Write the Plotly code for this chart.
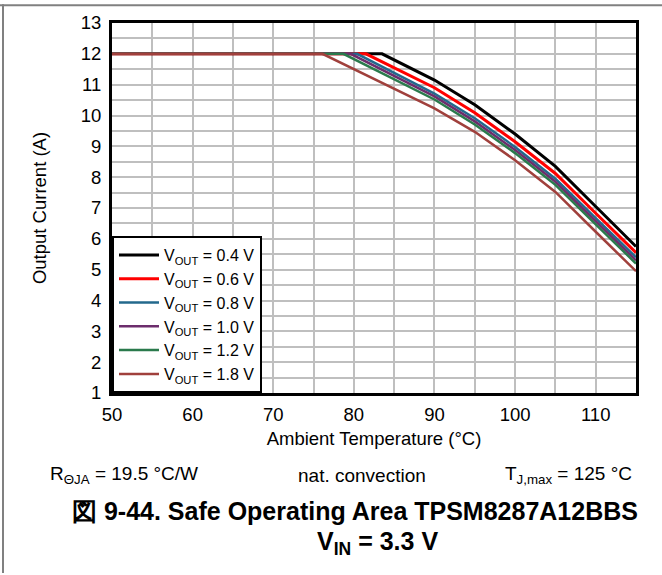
import plotly.graph_objects as go

# Data
temps_04 = [50, 83.5, 90, 95, 100, 105, 110, 115]
iout_04 = [12, 12, 11.15, 10.35, 9.40, 8.35, 7.05, 5.75]
temps_06 = [50, 81.5, 90, 95, 100, 105, 110, 115]
iout_06 = [12, 12, 10.90, 10.09, 9.15, 8.12, 6.83, 5.55]
temps_08 = [50, 80.4, 90, 95, 100, 105, 110, 115]
iout_08 = [12, 12, 10.71, 9.91, 8.98, 7.95, 6.67, 5.40]
temps_10 = [50, 79.6, 90, 95, 100, 105, 110, 115]
iout_10 = [12, 12, 10.62, 9.81, 8.88, 7.85, 6.57, 5.30]
temps_12 = [50, 78.7, 90, 95, 100, 105, 110, 115]
iout_12 = [12, 12, 10.52, 9.71, 8.78, 7.75, 6.47, 5.20]
temps_18 = [50, 76.1, 90, 95, 100, 105, 110, 115]
iout_18 = [12, 12, 10.23, 9.47, 8.55, 7.52, 6.23, 4.95]

series_names = ["V<sub>OUT</sub> = 0.4 V", "V<sub>OUT</sub> = 0.6 V", "V<sub>OUT</sub> = 0.8 V",
                "V<sub>OUT</sub> = 1.0 V", "V<sub>OUT</sub> = 1.2 V", "V<sub>OUT</sub> = 1.8 V"]
series_x = [temps_04, temps_06, temps_08, temps_10, temps_12, temps_18]
series_y = [iout_04, iout_06, iout_08, iout_10, iout_12, iout_18]
colors = ["#000000", "#FF0000", "#23698C", "#6C2D6C", "#2A7A4C", "#A0403C"]
widths = [3, 3, 2.5, 2.5, 2.5, 2.5]

FONT = "Liberation Sans, Arial, sans-serif"

fig = go.Figure()
for name, xs, ys, c, w in zip(series_names, series_x, series_y, colors, widths):
    fig.add_trace(go.Scatter(x=xs, y=ys, mode="lines", name=name,
                             line=dict(color=c, width=w)))

W, H = 662, 575
L, R, T, B = 112, 26, 19, 182
pw, ph = W - L - R, H - T - B

def px(x):
    return (x - L) / pw

def py(y):
    return (H - B - y) / ph

fig.update_layout(
    width=W, height=H,
    margin=dict(l=L, r=R, t=T, b=B),
    paper_bgcolor="white", plot_bgcolor="white",
    font=dict(family=FONT, size=18, color="black"),
    showlegend=True,
    legend=dict(x=0, y=0, xanchor="left", yanchor="bottom",
                bgcolor="white", bordercolor="black", borderwidth=2,
                font=dict(size=16, family=FONT), tracegroupgap=0,
                itemwidth=40),
    xaxis=dict(range=[50, 115], dtick=10, tick0=50, showgrid=True,
               gridcolor="#BFBFBF", gridwidth=1.5,
               minor=dict(dtick=5, tick0=50, showgrid=True, gridcolor="#BFBFBF", gridwidth=1.5),
               showline=True, linecolor="black", linewidth=3, mirror=True,
               ticks="", zeroline=False, ticklabelstandoff=3,
               title=dict(text="Ambient Temperature (°C)", font=dict(size=18.5), standoff=8),
               tickfont=dict(size=18.5)),
    yaxis=dict(range=[1, 13], dtick=1, showgrid=True,
               gridcolor="#BFBFBF", gridwidth=1.5,
               minor=dict(dtick=0.5, showgrid=True, gridcolor="#BFBFBF", gridwidth=1.5),
               showline=True, linecolor="black", linewidth=3, mirror=True,
               ticks="", zeroline=False, ticklabelstandoff=4,
               title=dict(text="Output Current (A)", font=dict(size=18.5), standoff=30),
               tickfont=dict(size=18.5)),
)

ann = [
    ("R<sub>ΘJA</sub> = 19.5 °C/W", 48, 476, 19, False, "left"),
    ("nat. convection", 362, 476, 19, False, "center"),
    ("T<sub>J,max</sub> = 125 °C", 634, 476, 19, False, "right"),
    ("図 9-44. Safe Operating Area TPSM8287A12BBS", 355, 512, 25, True, "center"),
    ("V<sub>IN</sub> = 3.3 V", 377, 545, 25, True, "center"),
]
for text, x, y, size, bold, anchor in ann:
    fig.add_annotation(text=f"<b>{text}</b>" if bold else text,
                       x=px(x), y=py(y), xref="paper", yref="paper",
                       xanchor=anchor, yanchor="middle", showarrow=False,
                       font=dict(size=size, family=FONT, color="black"))

# outer frame lines (top and left)
fig.add_shape(type="line", xref="paper", yref="paper",
              x0=px(0), x1=px(W), y0=py(1), y1=py(1),
              line=dict(color="#808080", width=2))
fig.add_shape(type="line", xref="paper", yref="paper",
              x0=px(3), x1=px(3), y0=py(0), y1=py(H),
              line=dict(color="#808080", width=2))

fig.write_html("out.html", config={"displayModeBar": False},
               post_script="document.body.style.margin='0';document.body.style.overflow='hidden';")
